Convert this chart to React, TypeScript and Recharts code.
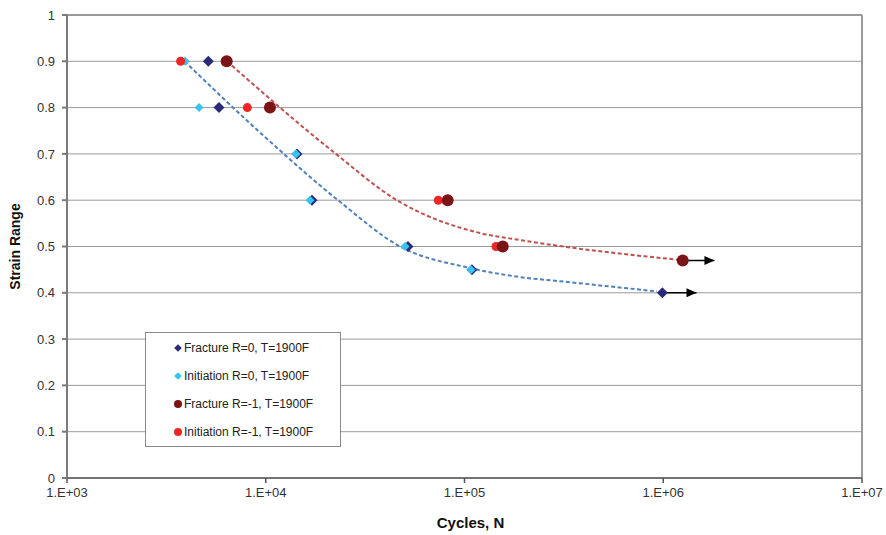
import React from 'react';
import { ComposedChart, Line, Scatter, XAxis, YAxis, CartesianGrid, ReferenceLine, Legend } from 'recharts';

type Pt = { n: number; s: number };
const pts = (rows: number[][]): Pt[] => rows.map(([n, s]) => ({ n, s }));

const FONT = '"Liberation Sans", Arial, sans-serif';

const xTicks = [1e3, 1e4, 1e5, 1e6, 1e7];
const yTicks = [0, 0.1, 0.2, 0.3, 0.4, 0.5, 0.6, 0.7, 0.8, 0.9, 1];

// test points (cycles, strain range)
const fractureR0 = pts([[5140, 0.9], [5820, 0.8], [14360, 0.7], [17090, 0.6], [51950, 0.5], [109000, 0.45], [990000, 0.4]]);
const initiationR0 = pts([[3930, 0.9], [4620, 0.8], [14200, 0.7], [16700, 0.6], [50200, 0.5], [107800, 0.45]]);
const fractureR1 = pts([[6360, 0.9], [10500, 0.8], [82300, 0.6], [155700, 0.5], [1253000, 0.47]]);
const initiationR1 = pts([[3730, 0.9], [8080, 0.8], [73800, 0.6], [144000, 0.5]]);

// dashed trend curves
const trendR0 = pts([[3900, 0.9], [9650, 0.741], [23100, 0.6], [47400, 0.5], [106600, 0.4536], [190000, 0.434], [302000, 0.425], [930000, 0.403]]);
const trendR1 = pts([[6380, 0.9], [21800, 0.705], [45700, 0.6], [119700, 0.529], [190000, 0.514], [302000, 0.501], [1210000, 0.471]]);

// run-out arrows
const runoutR0 = pts([[990000, 0.4], [1470000, 0.4]]);
const runoutR1 = pts([[1253000, 0.47], [1810000, 0.47]]);

const NAVY = '#2b2a78';
const CYAN = '#35c5f0';
const DARKRED = '#7a1416';
const RED = '#f02525';

const legendItems = [
  { label: 'Fracture R=0, T=1900F', color: NAVY, kind: 'diamond' },
  { label: 'Initiation R=0, T=1900F', color: CYAN, kind: 'diamond' },
  { label: 'Fracture R=-1, T=1900F', color: DARKRED, kind: 'circle' },
  { label: 'Initiation R=-1, T=1900F', color: RED, kind: 'circle' },
];

const diamond = (cx: number, cy: number, r: number) =>
  `M${cx},${cy - r}L${cx + r},${cy}L${cx},${cy + r}L${cx - r},${cy}Z`;

const Diamond = (color: string, r: number) => (props: any) => (
  <path d={diamond(props.cx, props.cy, r)} fill={color} />
);

const Dot = (color: string, r: number) => (props: any) => (
  <circle cx={props.cx} cy={props.cy} r={r} fill={color} />
);

const arrowHead = (props: any) => {
  if (props.index !== 1) return <g key={`a-${props.index}`} />;
  const { cx, cy } = props;
  return <path key={`a-${props.index}`} d={`M${cx},${cy}L${cx - 10},${cy - 4.5}L${cx - 10},${cy + 4.5}Z`} fill="#000" />;
};

const fmtX = (v: number) => `1.E+${String(Math.round(Math.log10(v))).padStart(2, '0')}`;

const LegendBox = () => (
  <div
    style={{
      width: 196,
      height: 115,
      border: '1px solid #8a8a8a',
      background: '#fff',
      fontFamily: FONT,
      fontSize: 12,
      color: '#222',
      paddingTop: 1,
      boxSizing: 'border-box',
    }}
  >
    {legendItems.map((it) => (
      <div key={it.label} style={{ display: 'flex', alignItems: 'center', height: 28, paddingLeft: 27 }}>
        <svg width={10} height={10} style={{ marginRight: 1 }}>
          {it.kind === 'diamond' ? (
            <path d={diamond(5, 5, 3.8)} fill={it.color} />
          ) : (
            <circle cx={5} cy={5} r={4} fill={it.color} />
          )}
        </svg>
        <span>{it.label}</span>
      </div>
    ))}
  </div>
);

const StrainLabel = (props: any) => {
  const { viewBox } = props;
  const x = viewBox.x + 15;
  const y = viewBox.y + viewBox.height / 2;
  return (
    <text
      x={x}
      y={y}
      transform={`rotate(-90, ${x}, ${y})`}
      textAnchor="middle"
      dominantBaseline="central"
      fontFamily={FONT}
      fontSize={14}
      fontWeight="bold"
      fill="#111"
    >
      Strain Range
    </text>
  );
};

export default function App() {
  return (
    <div style={{ position: 'absolute', left: 0, top: 0, width: 886, height: 535, background: '#fff' }}>
      <ComposedChart width={886} height={535} margin={{ top: 15, right: 24, bottom: 0, left: 0 }}>
        <CartesianGrid vertical={false} stroke="#9a9a9a" strokeWidth={1} />
        <XAxis
          type="number"
          dataKey="n"
          scale="log"
          domain={[1e3, 1e7]}
          ticks={xTicks}
          interval={0}
          allowDataOverflow
          tickFormatter={fmtX}
          height={57}
          tickSize={5}
          tickMargin={5}
          stroke="#555"
          strokeWidth={1.5}
          tick={{ fontFamily: FONT, fontSize: 13, fill: '#333' }}
          label={{ value: 'Cycles, N', position: 'insideBottom', offset: 7, dx: 6, fontFamily: FONT, fontSize: 15, fontWeight: 'bold', fill: '#111' }}
        />
        <YAxis
          type="number"
          dataKey="s"
          domain={[0, 1]}
          ticks={yTicks}
          interval={0}
          width={67}
          tickSize={5}
          tickMargin={7}
          stroke="#7a7a7a"
          strokeWidth={2}
          tick={{ fontFamily: FONT, fontSize: 13, fill: '#333' }}
          label={<StrainLabel />}
        />
        <ReferenceLine x={1e7} stroke="#9a9a9a" strokeWidth={2} />
        <ReferenceLine y={1} stroke="#9a9a9a" strokeWidth={2} />
        <Legend
          layout="vertical"
          align="center"
          verticalAlign="middle"
          content={<LegendBox />}
          wrapperStyle={{ left: 145, top: 332, width: 196, height: 115 }}
        />
        <Line data={trendR0} dataKey="s" type="monotone" stroke="#4f81bd" strokeWidth={2} strokeDasharray="4 2.5" dot={false} activeDot={false} isAnimationActive={false} legendType="none" />
        <Line data={trendR1} dataKey="s" type="monotone" stroke="#c0504d" strokeWidth={2} strokeDasharray="4 2.5" dot={false} activeDot={false} isAnimationActive={false} legendType="none" />
        <Line data={runoutR0} dataKey="s" stroke="#000" strokeWidth={1.5} dot={arrowHead} activeDot={false} isAnimationActive={false} legendType="none" />
        <Line data={runoutR1} dataKey="s" stroke="#000" strokeWidth={1.5} dot={arrowHead} activeDot={false} isAnimationActive={false} legendType="none" />
        <Scatter name="Fracture R=0, T=1900F" data={fractureR0} shape={Diamond(NAVY, 5.5)} isAnimationActive={false} />
        <Scatter name="Initiation R=0, T=1900F" data={initiationR0} shape={Diamond(CYAN, 4.5)} isAnimationActive={false} />
        <Scatter name="Initiation R=-1, T=1900F" data={initiationR1} shape={Dot(RED, 4.5)} isAnimationActive={false} />
        <Scatter name="Fracture R=-1, T=1900F" data={fractureR1} shape={Dot(DARKRED, 6)} isAnimationActive={false} />
      </ComposedChart>
    </div>
  );
}
